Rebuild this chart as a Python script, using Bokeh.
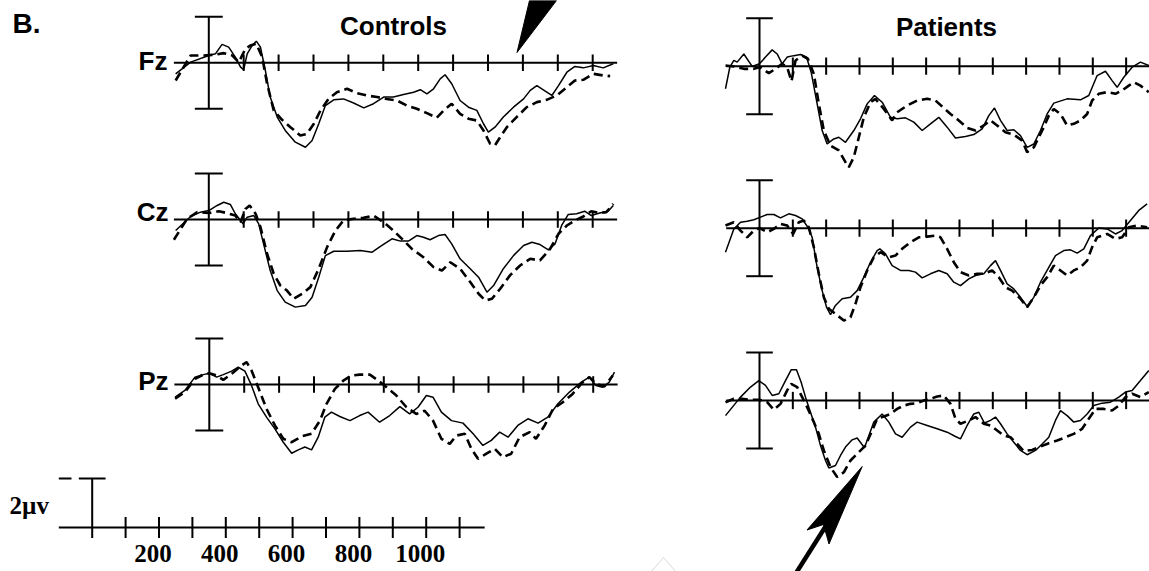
from bokeh.plotting import figure
from bokeh.models import Range1d
from bokeh.core.properties import value
from bokeh.embed import file_html
from bokeh.resources import INLINE

# ---------------- data: ERP waveforms, (time ms, amplitude uV) ----------------
ctrl_fz_solid = [(-95,-0.48),(-52,0.03),(0,0.32),(19,0.39),(38,0.80),(57,0.68),(76,0.25),(91,-0.19),(100,-0.30),(110,0.39),
    (124,0.75),(136,0.94),(148,0.68),(162,-0.33),(176,-1.49),(196,-2.36),(219,-2.94),(248,-3.45),(277,-3.67),(296,-3.38),
    (315,-2.65),(334,-1.86),(358,-1.61),(386,-1.57),(415,-1.75),(444,-1.96),(472,-1.78),(501,-1.49),(529,-1.49),(558,-1.38),
    (587,-1.28),(606,-1.17),(625,-1.35),(644,-1.13),(663,-0.70),(677,-0.52),(696,-0.91),(720,-1.64),(744,-1.93),(768,-2.07),
    (787,-2.65),(801,-3.01),(820,-2.80),(844,-2.36),(873,-1.93),(902,-1.57),(921,-1.20),(940,-0.99),(964,-1.23),(983,-1.42),
    (1002,-0.99),(1026,-0.41),(1049,-0.16),(1073,-0.22),(1102,-0.12),(1130,-0.22),(1159,-0.04)]
ctrl_fz_dash = [(-95,-0.77),(-52,0.32),(-14,0.32),(14,0.35),(43,0.42),(67,0.32),(86,0.03),(105,0.61),(119,0.75),(136,0.83),
    (153,0.25),(167,-0.91),(186,-2.07),(210,-2.48),(234,-2.80),(262,-3.16),(281,-3.09),(301,-2.65),(320,-2.07),(343,-1.57),
    (367,-1.28),(396,-1.13),(425,-1.32),(453,-1.42),(482,-1.49),(510,-1.57),(539,-1.64),(568,-1.86),(596,-2.00),(625,-2.19),
    (653,-2.39),(673,-2.07),(696,-1.78),(720,-2.22),(744,-2.43),(768,-2.51),(787,-2.94),(806,-3.52),(820,-3.59),(835,-3.23),
    (854,-2.80),(882,-2.36),(911,-1.93),(940,-1.71),(968,-1.61),(997,-1.42),(1026,-1.06),(1049,-0.77),(1073,-0.74),(1102,-0.48),
    (1130,-0.55),(1150,-0.58)]
ctrl_cz_solid = [(-95,-0.48),(-52,0.13),(-24,0.32),(0,0.39),(24,0.61),(43,0.75),(62,0.65),(76,0.25),(91,-0.04),(98,-0.19),
    (110,0.10),(129,0.17),(143,-0.19),(157,-1.06),(176,-2.22),(196,-3.09),(219,-3.59),(248,-3.81),(277,-3.74),(296,-3.38),
    (315,-2.51),(334,-1.57),(358,-1.38),(396,-1.38),(434,-1.35),(468,-1.42),(496,-1.13),(525,-0.84),(549,-0.94),(572,-0.94),
    (596,-0.70),(615,-0.77),(634,-0.88),(658,-0.70),(677,-0.65),(696,-1.06),(720,-1.71),(749,-2.14),(773,-2.51),(797,-3.16),
    (816,-2.87),(844,-2.14),(873,-1.57),(902,-1.13),(926,-0.99),(949,-1.09),(973,-1.32),(992,-1.06),(1011,-0.26),(1030,0.22),
    (1054,0.25),(1077,0.36),(1096,0.17),(1120,0.28),(1144,0.36),(1159,0.61)]
ctrl_cz_dash = [(-100,-0.88),(-62,0.03),(-33,0.32),(0,0.28),(29,0.36),(52,0.28),(76,0.17),(91,-0.12),(105,0.46),(117,0.61),
    (134,0.25),(148,-0.33),(167,-1.49),(186,-2.36),(205,-2.87),(224,-3.09),(243,-3.45),(267,-3.23),(291,-2.94),(315,-2.14),
    (339,-1.20),(363,-0.48),(386,-0.04),(415,0.03),(443,0.07),(472,0.17),(501,-0.12),(529,-0.48),(558,-0.91),(582,-1.28),
    (615,-1.64),(644,-2.07),(668,-2.22),(692,-1.86),(720,-2.14),(749,-2.72),(773,-3.23),(792,-3.52),(811,-3.45),(835,-3.01),
    (863,-2.43),(892,-2.00),(921,-1.71),(949,-1.78),(978,-1.28),(1002,-0.62),(1026,-0.26),(1049,-0.04),(1073,0.13),(1096,0.36),
    (1120,0.28),(1139,0.32),(1159,0.68)]
ctrl_pz_solid = [(-98,-0.55),(-70,-0.26),(-41,0.32),(-17,0.43),(0,0.49),(21,0.32),(40,0.43),(64,0.58),(83,0.75),(102,0.58),
    (121,-0.04),(140,-0.84),(164,-1.42),(188,-1.93),(212,-2.51),(236,-2.99),(255,-2.84),(274,-2.72),(293,-2.84),(312,-2.29),
    (331,-1.42),(350,-1.20),(374,-1.39),(403,-1.57),(431,-1.35),(455,-1.20),(488,-1.64),(517,-1.35),(546,-0.96),(574,-1.28),
    (598,-0.99),(622,-0.48),(641,-0.55),(665,-1.20),(694,-1.57),(727,-1.68),(756,-2.14),(784,-2.65),(808,-2.43),(832,-2.07),
    (856,-2.29),(884,-1.78),(913,-1.49),(942,-1.68),(970,-1.42),(999,-0.84),(1032,-0.33),(1066,0.10),(1089,0.32),(1108,-0.04),
    (1127,-0.12),(1146,0.10),(1161,0.54)]
ctrl_pz_dash = [(-98,-0.62),(-70,-0.33),(-41,0.25),(-17,0.43),(0,0.49),(21,0.39),(40,0.20),(64,0.46),(88,0.78),(107,0.97),
    (121,0.61),(140,-0.12),(164,-1.06),(188,-1.78),(212,-2.36),(236,-2.51),(264,-2.26),(293,-2.14),(317,-1.57),(336,-0.84),
    (360,-0.19),(384,0.17),(407,0.39),(431,0.43),(460,0.43),(484,0.17),(508,-0.12),(536,-0.48),(565,-0.99),(593,-1.28),
    (617,-1.14),(641,-1.57),(665,-2.36),(689,-2.58),(708,-2.22),(732,-2.14),(751,-2.80),(770,-3.23),(794,-3.01),(818,-2.80),
    (841,-3.16),(865,-3.01),(889,-2.29),(918,-2.07),(936,-2.36),(961,-1.78),(985,-1.06),(1013,-0.77),(1041,-0.41),(1070,0.10),
    (1089,0.32),(1108,0.03),(1132,-0.09),(1156,0.39)]
pat_fz_solid = [(-102,-0.94),(-89,-0.04),(-77,0.24),(-67,0.17),(-47,0.51),(-22,-0.01),(0,0.10),(18,0.38),(38,0.68),(53,0.51),
    (68,0.10),(83,0.38),(103,0.44),(123,0.49),(141,0.38),(155,-0.25),(173,-1.57),(188,-2.68),(203,-3.24),(223,-3.03),
    (238,-2.96),(258,-3.17),(283,-2.68),(303,-2.19),(323,-1.57),(345,-1.22),(368,-1.50),(393,-2.13),(413,-2.19),(438,-2.15),
    (463,-2.33),(488,-2.68),(513,-2.40),(538,-2.13),(563,-2.54),(588,-2.99),(618,-2.93),(643,-2.85),(668,-2.61),(688,-2.06),
    (705,-1.74),(723,-2.26),(743,-2.68),(763,-2.65),(783,-2.89),(803,-3.38),(823,-3.24),(843,-2.68),(863,-1.99),(883,-1.54),
    (923,-1.36),(963,-1.40),(988,-1.22),(1013,-0.39),(1038,-0.21),(1058,-0.60),(1073,-0.88),(1093,-0.46),(1118,-0.04),(1143,0.17),
    (1168,0.03)]
pat_fz_dash = [(-102,0.03),(-77,-0.01),(-47,-0.11),(-17,-0.11),(0,-0.04),(28,-0.29),(48,-0.11),(68,0.10),(83,-0.04),(96,-0.63),
    (108,0.24),(128,0.44),(145,0.31),(163,-0.32),(178,-1.57),(193,-2.68),(213,-3.31),(238,-3.51),(258,-4.00),(268,-4.21),
    (283,-3.79),(298,-2.96),(313,-2.13),(333,-1.50),(348,-1.36),(373,-1.78),(398,-2.26),(413,-1.92),(443,-1.64),(473,-1.43),
    (503,-1.36),(528,-1.43),(548,-1.68),(573,-1.99),(598,-2.26),(623,-2.57),(648,-2.68),(673,-2.47),(693,-2.26),(713,-2.47),
    (738,-2.75),(763,-2.85),(788,-3.10),(803,-3.58),(823,-3.38),(838,-2.96),(853,-2.54),(868,-2.06),(883,-1.78),(903,-1.99),
    (923,-2.47),(943,-2.40),(963,-2.26),(983,-1.99),(998,-1.43),(1018,-1.15),(1043,-1.08),(1068,-1.15),(1088,-1.01),(1108,-0.81),
    (1123,-0.67),(1143,-0.81),(1168,-1.08)]
pat_cz_solid = [(-102,-1.00),(-77,-0.03),(-57,0.25),(-37,0.29),(-17,0.35),(3,0.46),(23,0.57),(43,0.57),(63,0.43),(88,0.60),
    (108,0.53),(128,0.39),(145,0.04),(158,-0.38),(173,-1.63),(188,-2.60),(201,-3.29),(213,-3.60),(228,-3.22),(248,-2.94),
    (273,-2.88),(293,-2.60),(313,-2.04),(333,-1.42),(353,-0.93),(361,-0.86),(378,-1.07),(398,-1.56),(423,-1.76),(448,-1.76),
    (468,-1.83),(488,-2.07),(513,-1.90),(538,-1.76),(563,-1.90),(583,-2.25),(603,-2.39),(628,-2.11),(648,-1.97),(673,-1.90),
    (693,-1.56),(708,-1.35),(723,-1.76),(743,-2.32),(763,-2.53),(783,-2.88),(803,-3.26),(823,-2.88),(843,-2.25),(868,-1.63),
    (888,-1.14),(913,-0.93),(933,-0.90),(953,-1.04),(973,-0.86),(993,-0.31),(1018,0.01),(1043,-0.03),(1068,-0.24),(1088,-0.10),
    (1113,0.32),(1138,0.74),(1163,1.01)]
pat_cz_dash = [(-102,0.11),(-77,0.25),(-57,-0.10),(-37,-0.38),(-17,-0.10),(0,0.01),(23,-0.17),(43,-0.03),(63,0.18),(83,0.11),
    (101,-0.24),(118,0.25),(133,0.32),(148,0.04),(163,-0.79),(178,-1.90),(193,-2.88),(208,-3.36),(228,-3.57),(253,-3.85),
    (273,-3.71),(288,-3.15),(303,-2.46),(323,-1.76),(343,-1.21),(363,-1.00),(388,-1.21),(408,-1.14),(428,-0.86),(453,-0.58),
    (478,-0.38),(503,-0.35),(528,-0.31),(543,-0.38),(563,-0.86),(583,-1.42),(603,-1.83),(628,-1.97),(653,-1.90),(673,-1.90),
    (698,-1.76),(718,-2.04),(738,-2.46),(758,-2.60),(783,-2.94),(803,-3.29),(823,-2.88),(843,-2.39),(863,-2.04),(883,-1.56),
    (903,-1.76),(923,-1.97),(943,-1.76),(963,-1.63),(983,-1.35),(998,-0.79),(1013,-0.38),(1043,-0.24),(1068,-0.44),(1088,-0.38),
    (1108,0.04),(1133,0.11),(1163,0.04)]
pat_pz_solid = [(-102,-0.63),(-57,0.14),(-27,0.56),(-2,0.83),(18,0.63),(38,0.21),(58,0.28),(78,0.83),(95,1.28),(111,1.28),
    (125,0.76),(138,0.14),(153,-0.49),(168,-1.11),(183,-1.88),(198,-2.50),(208,-2.81),(228,-2.71),(243,-2.29),(258,-1.94),
    (278,-1.64),(293,-1.56),(315,-1.97),(343,-0.90),(368,-0.56),(388,-0.90),(408,-1.39),(428,-1.53),(453,-1.11),(473,-0.90),
    (503,-1.04),(533,-1.18),(563,-1.32),(588,-1.50),(603,-1.60),(623,-1.04),(643,-0.56),(658,-0.49),(675,-0.94),(693,-0.83),
    (708,-0.69),(723,-0.97),(743,-1.39),(763,-1.74),(783,-2.08),(803,-2.26),(828,-2.08),(848,-1.81),(868,-1.53),(888,-0.83),
    (903,-0.42),(923,-0.63),(943,-0.90),(963,-0.83),(983,-0.56),(1003,-0.21),(1028,-0.11),(1053,-0.07),(1078,0.14),(1098,0.35),
    (1118,0.42),(1143,0.83),(1168,1.25)]
pat_pz_dash = [(-102,-0.07),(-77,0.07),(-52,0.07),(-27,0.03),(0,0.03),(23,-0.07),(43,-0.39),(63,-0.14),(83,0.42),(95,0.69),
    (113,0.56),(128,0.14),(143,-0.28),(163,-0.90),(178,-1.39),(193,-2.08),(213,-2.78),(233,-3.19),(253,-2.99),(273,-2.50),
    (293,-2.22),(318,-1.88),(338,-1.25),(353,-0.76),(373,-0.67),(393,-0.56),(413,-0.35),(433,-0.21),(453,-0.14),(473,-0.11),
    (493,0.00),(513,0.07),(533,0.17),(553,0.21),(573,-0.14),(588,-0.76),(603,-0.97),(628,-0.83),(648,-0.69),(673,-0.97),
    (693,-1.04),(713,-1.25),(733,-1.46),(753,-1.53),(773,-1.81),(793,-2.11),(818,-2.06),(843,-1.92),(868,-1.78),(893,-1.67),
    (918,-1.53),(943,-1.39),(968,-1.18),(988,-0.76),(1008,-0.35),(1033,-0.35),(1058,-0.42),(1078,-0.21),(1098,0.14),(1118,0.28),
    (1143,0.14),(1168,0.35)]

time_ticks = [100, 200, 300, 400, 500, 600, 700, 800, 900, 1000, 1100]
scale_labels = ["200", "400", "600", "800", "1000"]
scale_label_times = [200, 400, 600, 800, 1000]
electrodes = ["Fz", "Cz", "Pz"]
groups = ["Controls", "Patients"]
scale_text = "2\u00b5v"
panel_label = "B."

# ---------------- layout (pixel geometry of the page) ----------------
W, H, OFF = 1149, 571, 0
SANS = value("Liberation Sans")
SERIF = value("Liberation Serif")

p = figure(width=W, height=H, x_range=Range1d(OFF, OFF + W), y_range=Range1d(OFF + H, OFF),
           output_backend="svg", toolbar_location=None, min_border=0,
           x_axis_type=None, y_axis_type=None)
p.grid.visible = False
p.outline_line_color = None
p.background_fill_color = "white"
p.border_fill_color = "white"


def add_ranges(name, ox, base, kx, ky):
    p.extra_x_ranges[name] = Range1d((OFF - ox) / kx, (OFF + W - ox) / kx)
    p.extra_y_ranges[name] = Range1d((base - (OFF + H)) / ky, (base - OFF) / ky)


# name, origin x, baseline y, px per ms, px per uV, axis end (ms), solid, dashed
panels = [
    ("cfz", 208.3, 62.3, 0.349, 23.0, 1170, ctrl_fz_solid, ctrl_fz_dash),
    ("ccz", 208.3, 219.0, 0.349, 23.0, 1170, ctrl_cz_solid, ctrl_cz_dash),
    ("cpz", 208.8, 384.0, 0.349, 23.0, 1170, ctrl_pz_solid, ctrl_pz_dash),
    ("pfz", 759.0, 65.7, 0.3333, 24.0, 1185, pat_fz_solid, pat_fz_dash),
    ("pcz", 759.0, 227.7, 0.3333, 24.0, 1185, pat_cz_solid, pat_cz_dash),
    ("ppz", 759.0, 400.0, 0.3333, 24.0, 1185, pat_pz_solid, pat_pz_dash),
]

for name, ox, base, kx, ky, tend, solid, dashed in panels:
    add_ranges(name, ox, base, kx, ky)
    kw = dict(x_range_name=name, y_range_name=name)
    p.segment(x0=[-100], y0=[0], x1=[tend], y1=[0], line_color="black", line_width=2, **kw)
    p.segment(x0=time_ticks, y0=[-0.36] * len(time_ticks), x1=time_ticks, y1=[0.36] * len(time_ticks),
              line_color="black", line_width=2, **kw)
    p.segment(x0=[0, -40, -40], y0=[-2, 2, -2], x1=[0, 40, 40], y1=[2, 2, -2],
              line_color="black", line_width=2, **kw)
    ts, vs = zip(*dashed)
    p.line(list(ts), list(vs), line_color="black", line_width=2.6, line_dash="9 5", **kw)
    ts, vs = zip(*solid)
    p.line(list(ts), list(vs), line_color="black", line_width=1.5, **kw)

# calibration legend (bottom-left)
add_ranges("leg", 91.7, 527.0, 0.334, 24.5)
lk = dict(x_range_name="leg", y_range_name="leg")
p.segment(x0=[-100], y0=[0], x1=[1175], y1=[0], line_color="black", line_width=2, **lk)
p.segment(x0=time_ticks, y0=[-0.43] * len(time_ticks), x1=time_ticks, y1=[0.43] * len(time_ticks),
          line_color="black", line_width=2, **lk)
p.segment(x0=[0, -40, -100], y0=[-0.43, 2, 2], x1=[0, 40, -62], y1=[2, 2, 2],
          line_color="black", line_width=2, **lk)
p.text(x=scale_label_times, y=[-1.07] * len(scale_labels), text=scale_labels, x_offset=-6,
       text_font=SERIF, text_font_style="bold", text_font_size="25px",
       text_align="center", text_baseline="middle", text_color="black", **lk)

# text labels
p.text(x=[12], y=[23], text=[panel_label], text_font=SANS, text_font_style="bold",
       text_font_size="28px", text_align="left", text_baseline="middle", text_color="black")
p.text(x=[393, 946], y=[25, 26], text=groups, text_font=SANS, text_font_style="bold",
       text_font_size="26px", text_align="center", text_baseline="middle", text_color="black")
p.text(x=[167, 168, 168], y=[60, 211, 380], text=electrodes, text_font=SANS, text_font_style="bold",
       text_font_size="26px", text_align="right", text_baseline="middle", text_color="black")
p.text(x=[9], y=[505], text=[scale_text], text_font=SERIF, text_font_style="bold",
       text_font_size="25px", text_align="left", text_baseline="middle", text_color="black")

# arrows
p.patch(x=[516.5, 529, 556], y=[52, 0, 0], fill_color="black", line_color="black")
p.segment(x0=[794], y0=[575], x1=[832], y1=[515], line_color="black", line_width=4.5)
p.patch(x=[861.7, 806.5, 823, 828.5], y=[466, 529.5, 524, 543.5], fill_color="black", line_color="black")
# faint watermark triangle
p.patch(x=[650, 663, 676], y=[572, 557, 572], fill_color=None, line_color="#d8d8d8", line_width=1)

open("out.html", "w").write(file_html(p, INLINE))
